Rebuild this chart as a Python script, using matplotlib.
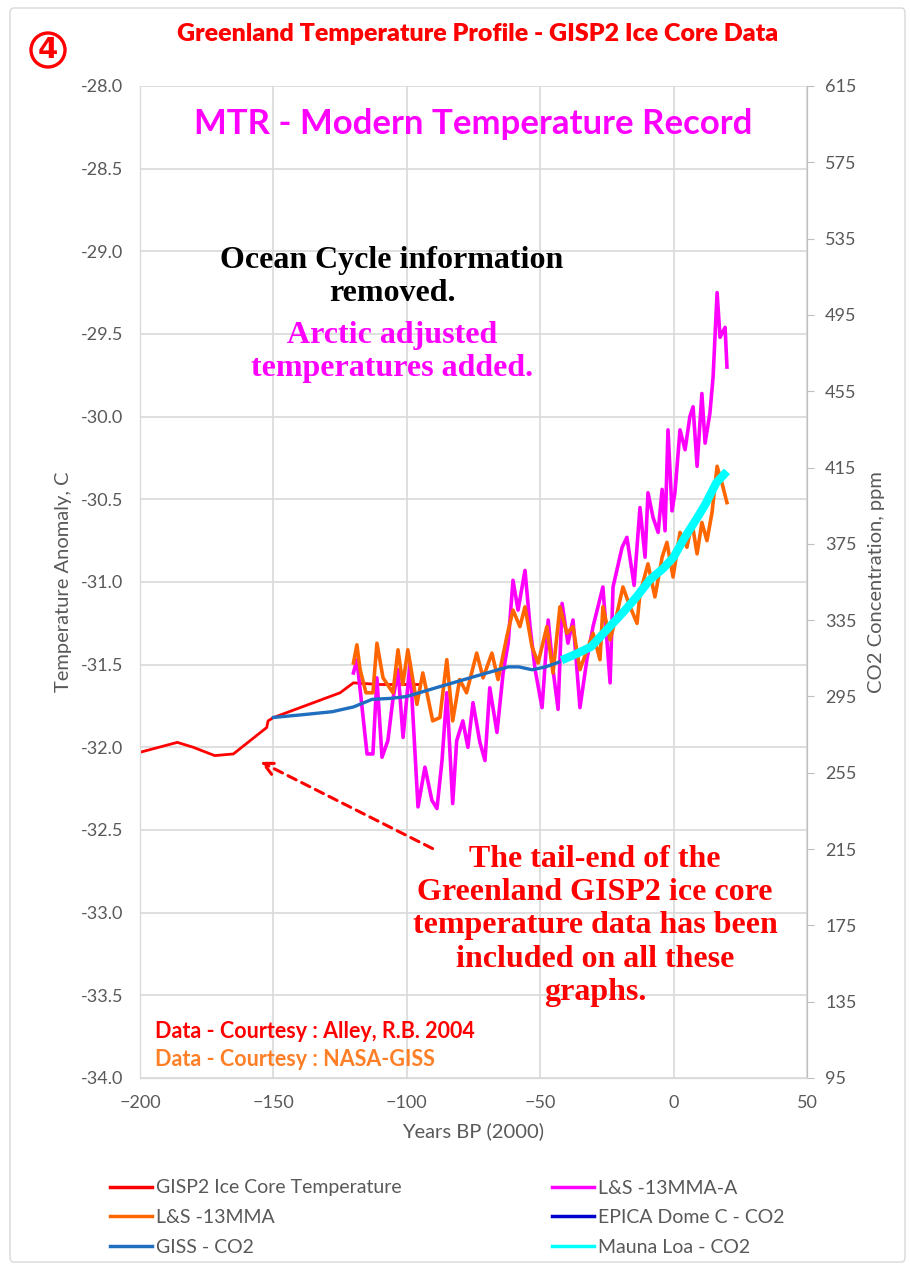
import numpy as np
import matplotlib
matplotlib.use('Agg')
import matplotlib.pyplot as plt
from matplotlib.lines import Line2D
from matplotlib.patches import FancyBboxPatch, Ellipse

plt.rcParams['font.family'] = ['Lato', 'DejaVu Sans']

# GISP2 ice core temperature (years BP 2000, deg C)
gisp2_yr = [-200, -186, -180, -172, -165, -152.5, -152, -150, -135, -125, -120, -110, -95]
gisp2_t = [-32.03, -31.97, -32.0, -32.05, -32.04, -31.88, -31.84, -31.82, -31.73, -31.67, -31.61, -31.62, -31.62]

# L&S -13MMA (orange)
ls13_yr = [-120, -118.7, -117.5, -115.3, -112.7, -111.2, -108.9, -105.2, -103.3, -101.5, -99.6,
           -96.2, -94.0, -90.3, -87.6, -85.0, -82.8, -80.2, -77.6, -73.8, -71.4, -68.1, -65.8,
           -62.5, -60.2, -57.6, -55.7, -53.1, -50.8, -47.5, -45.2, -42.6, -40.0, -37.7, -35.1,
           -30.2, -27.6, -26.5, -23.8, -21.2, -19.0, -16.3, -13.7, -12.6, -9.6, -7.0, -4.3,
           -2.5, -0.2, 2.4, 5.0, 6.9, 8.8, 10.6, 12.5, 14.4, 16.3, 18.1, 20.0]
ls13_t = [-31.49, -31.38, -31.53, -31.67, -31.67, -31.37, -31.58, -31.67, -31.41, -31.62, -31.41,
          -31.74, -31.55, -31.84, -31.82, -31.47, -31.84, -31.59, -31.67, -31.43, -31.58, -31.43, -31.59,
          -31.33, -31.17, -31.27, -31.15, -31.39, -31.49, -31.27, -31.55, -31.15, -31.31, -31.27, -31.53,
          -31.31, -31.47, -31.15, -31.35, -31.19, -31.03, -31.15, -31.25, -31.07, -30.89, -31.09, -30.85,
          -30.76, -30.97, -30.70, -30.79, -30.64, -30.83, -30.64, -30.75, -30.58, -30.30, -30.40, -30.52]

# L&S -13MMA-A (magenta, arctic adjusted)
lsa_yr = [-120, -118.7, -114.9, -112.7, -111.2, -109.3, -107.1, -105.2, -103.3, -101.4, -98.8,
          -95.8, -93.2, -90.6, -88.7, -86.8, -85.0, -82.8, -81.3, -79.0, -77.1, -75.2, -72.6,
          -70.7, -68.9, -66.2, -63.9, -62.0, -60.2, -58.3, -55.7, -53.8, -51.9, -49.3, -47.0,
          -45.2, -43.3, -41.8, -39.6, -37.7, -35.1, -32.5, -30.2, -26.5, -23.8, -22.7, -19.3,
          -17.5, -14.8, -12.6, -10.7, -9.6, -7.7, -5.8, -4.3, -3.2, -2.1, -0.6, 0.5, 2.4, 4.3,
          6.1, 7.3, 8.8, 10.6, 11.8, 13.6, 14.8, 16.3, 17.4, 19.3, 20.0]
lsa_t = [-31.55, -31.47, -32.04, -32.04, -31.58, -32.06, -31.96, -31.71, -31.53, -31.94, -31.49,
         -32.36, -32.12, -32.32, -32.37, -32.08, -31.67, -32.34, -31.96, -31.84, -32.00, -31.73, -31.97,
         -32.08, -31.64, -31.91, -31.55, -31.37, -30.99, -31.17, -30.93, -31.27, -31.53, -31.76, -31.23,
         -31.53, -31.77, -31.13, -31.37, -31.23, -31.76, -31.47, -31.27, -31.03, -31.61, -31.03, -30.79,
         -30.73, -31.02, -30.55, -30.85, -30.46, -30.61, -30.70, -30.44, -30.69, -30.08, -30.57, -30.46,
         -30.08, -30.20, -30.00, -29.94, -30.30, -29.86, -30.16, -29.98, -29.76, -29.25, -29.52, -29.46,
         -29.70]

# CO2 series (ppm, right axis)
giss_yr = [-150, -140, -128, -120, -113, -106, -100, -88, -75, -62, -58, -53, -48, -43]
giss_co2 = [284, 285.3, 287, 289.5, 293.5, 294, 295, 300, 305.3, 310.5, 310.5, 309, 310.5, 313]

mlo_yr = [-42, -37, -31, -25, -19, -14, -9, -4, 0, 4, 9, 12, 16, 20]
mlo_co2 = [314, 317, 321, 330, 339, 347, 356, 362, 368, 378, 389, 396, 407, 413]

W, H = 910, 1268
fig = plt.figure(figsize=(W / 100, H / 100), dpi=100)

def fx(px):
    return px / W

def fy(py):
    return 1 - py / H

# chart border
fig.patches.append(FancyBboxPatch((fx(10), fy(1262)), fx(895), 1254 / H, transform=fig.transFigure,
                                  boxstyle='round,pad=0,rounding_size=0.004', fc='none',
                                  ec='#D9D9D9', lw=1))

ax1 = fig.add_axes([fx(140), fy(1078), fx(807 - 140), (1078 - 86) / H])
ax2 = ax1.twinx()

grey = '#595959'
gridc = '#D9D9D9'

ax1.plot(gisp2_yr, gisp2_t, color='#FF0000', lw=2, zorder=2)
ax1.plot(lsa_yr, lsa_t, color='#FF00FF', lw=2.6, zorder=3)
ax1.plot(ls13_yr, ls13_t, color='#FF6600', lw=2.6, zorder=4)
ax2.plot(giss_yr, giss_co2, color='#1F6EBF', lw=2.4, zorder=5)
ax2.plot(mlo_yr, mlo_co2, color='#00FFFF', lw=6, zorder=6, solid_capstyle='butt')

ax1.set_xlim(-200, 50)
ax1.set_ylim(-34, -28)
ax2.set_ylim(95, 615)
ax1.set_xticks(np.arange(-200, 51, 50))
ax1.set_yticks(np.arange(-34, -27.9, 0.5))
ax1.set_yticklabels(['%.1f' % v for v in np.arange(-34, -27.9, 0.5)])
ax2.set_yticks(np.arange(95, 616, 40))

ax1.grid(True, color=gridc, lw=1.2)
ax1.set_axisbelow(True)
for a in (ax1, ax2):
    for s in a.spines.values():
        s.set_color(gridc)
    a.spines['top'].set_visible(False)
ax1.spines['left'].set_color('#BFBFBF')
ax2.spines['right'].set_color('#BFBFBF')
ax1.spines['bottom'].set_color('#BFBFBF')

ax1.tick_params(axis='both', length=0, labelsize=13, labelcolor=grey)
ax1.tick_params(axis='x', pad=12)
ax1.tick_params(axis='y', pad=12)
ax2.tick_params(axis='y', length=5, color='#BFBFBF', labelsize=13, labelcolor=grey, pad=8)

ax1.set_xlabel('Years BP (2000)', fontsize=14.5, color=grey, labelpad=8)
ax1.set_ylabel('Temperature Anomaly, C', fontsize=14.5, color=grey, labelpad=6)
ax2.set_ylabel('CO2 Concentration, ppm', fontsize=14.5, color=grey, labelpad=8)

# arrow to the GISP2 tail
ax1.annotate('', xy=(-155.8, -32.08), xytext=(-89.4, -32.62),
             arrowprops=dict(arrowstyle='->', color='#FF0000', lw=2.2, ls=(0, (3, 2)),
                             mutation_scale=22))

# texts
fig.text(fx(478), fy(34), 'Greenland Temperature Profile - GISP2 Ice Core Data', color='#FF0000',
         fontsize=18, fontweight='heavy', ha='center', va='center')
fig.patches.append(Ellipse((fx(48), fy(50)), fx(34), 34 / H, transform=fig.transFigure,
                           fc='none', ec='#FF0000', lw=2.4))
fig.text(fx(48), fy(50), '4', color='#FF0000', fontsize=21, fontweight='bold', ha='center',
         va='center', family='DejaVu Sans')
fig.text(fx(473), fy(124), 'MTR - Modern Temperature Record', color='#FF00FF',
         fontsize=25, fontweight='bold', ha='center', va='center')
fig.text(fx(392), fy(277), 'Ocean Cycle information\nremoved.', color='black',
         fontsize=23, fontweight='bold', ha='center', va='center', family='Liberation Serif',
         linespacing=1.19)
fig.text(fx(392), fy(352), 'Arctic adjusted\ntemperatures added.', color='#FF00FF',
         fontsize=23, fontweight='bold', ha='center', va='center', family='Liberation Serif',
         linespacing=1.19)
fig.text(fx(595), fy(926), 'The tail-end of the\nGreenland GISP2 ice core\ntemperature data has been\n'
         'included on all these\ngraphs.', color='#FF0000', fontsize=23, fontweight='bold',
         ha='center', va='center', family='Liberation Serif', linespacing=1.19)
fig.text(fx(155), fy(1032), 'Data - Courtesy : Alley, R.B. 2004', color='#FF0000',
         fontsize=15.5, fontweight='bold', ha='left', va='center')
fig.text(fx(155), fy(1060), 'Data - Courtesy : NASA-GISS', color='#FF7F27',
         fontsize=15.5, fontweight='bold', ha='left', va='center')

# legend
handles = [Line2D([], [], color='#FF0000', lw=2.5),
           Line2D([], [], color='#FF6600', lw=2.5),
           Line2D([], [], color='#1F6EBF', lw=2.5),
           Line2D([], [], color='#FF00FF', lw=2.5),
           Line2D([], [], color='#0000CC', lw=2.5),
           Line2D([], [], color='#00FFFF', lw=2.5)]
labels = ['GISP2 Ice Core Temperature', 'L&S -13MMA', 'GISS - CO2',
          'L&S -13MMA-A', 'EPICA Dome C - CO2', 'Mauna Loa - CO2']
leg = fig.legend(handles, labels, ncol=2, loc='upper left', bbox_to_anchor=(fx(92), fy(1162)),
                 frameon=False, fontsize=14, handlelength=2.2, handletextpad=0.2,
                 columnspacing=7.7, labelspacing=0.65)
for t in leg.get_texts():
    t.set_color(grey)

fig.savefig('out.png', dpi=100)
